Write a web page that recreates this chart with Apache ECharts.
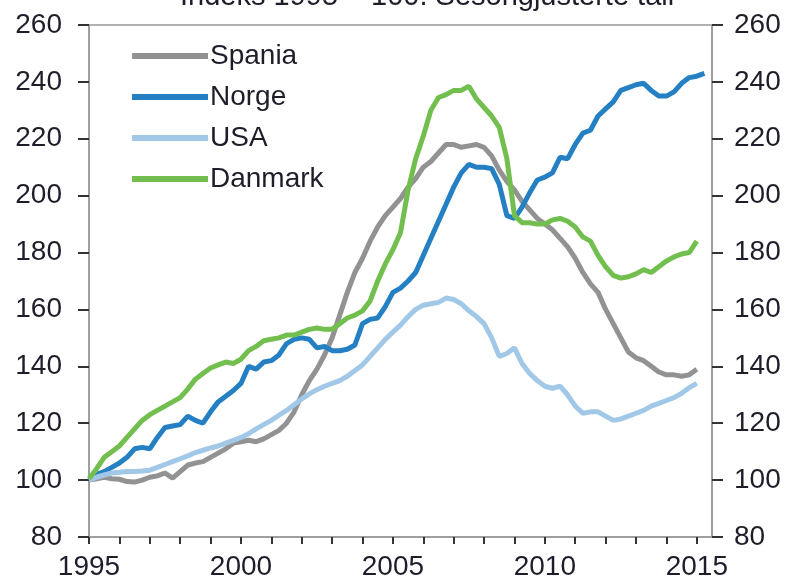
<!DOCTYPE html>
<html>
<head>
<meta charset="utf-8">
<script src="https://cdn.jsdelivr.net/npm/echarts@6/dist/echarts.min.js"></script>
<style>
  html, body { margin: 0; padding: 0; background: #fff; }
  #chart { width: 792px; height: 583px; }
</style>
</head>
<body>
<div id="chart"></div>
<script>
// quarterly points, 1995 Q1 .. 2015 Q2
const quarters = Array.from({ length: 82 }, (_, i) => 1995 + i / 4);

const spania = [
  100, 100.5, 101, 100.5, 100.3, 99.5, 99.3, 100, 101, 101.5, 102.5, 100.7,
  103, 105.3, 106, 106.5, 108, 109.5, 111, 113, 113.5, 114, 113.5, 114.5,
  116, 117.5, 120, 124, 130, 135, 139, 144, 150, 158, 166, 173,
  178, 184, 189, 193, 196, 199, 203, 206, 210, 212, 215, 218,
  218, 217, 217.5, 218, 217, 214, 209, 205, 202, 198, 195, 192,
  190, 188, 185, 182, 178, 173, 169, 166, 160, 155, 150, 145,
  143, 142, 140, 138, 137, 137, 136.5, 137, 139, null
];

const norge = [
  100, 102, 103, 104.5, 106, 108, 111, 111.5, 111, 115, 118.5, 119,
  119.5, 122.5, 121, 120, 124, 127.5, 129.5, 131.5, 134, 140, 139, 141.5,
  142, 144, 148, 149.5, 150, 149.5, 146.5, 147, 145.5, 145.5, 146, 147.5,
  155, 156.5, 157, 161, 166, 167.5, 170, 173, 179, 185, 191, 197,
  203, 208, 211, 210, 210, 209.5, 204, 193, 192, 196, 201, 205.5,
  206.5, 208, 213.5, 213, 218, 222, 223, 228, 230.5, 233, 237, 238,
  239, 239.5, 237, 235, 235, 236.5, 239.5, 241.5, 242, 243
];

const usa = [
  100, 101, 101.8, 102.5, 102.8, 103, 103, 103.2, 103.5, 104.5, 105.5, 106.5,
  107.5, 108.5, 109.7, 110.5, 111.3, 112, 113, 114, 115, 116.3, 118, 119.5,
  121, 122.8, 124.5, 126.5, 128.5, 130.3, 131.8, 133, 134, 135, 136.5, 138.5,
  140.5, 143.5, 146.5, 149.5, 152, 154.5, 157.5, 160, 161.5, 162, 162.5, 164,
  163.5, 162, 159.5, 157.5, 155, 150, 143.5, 144.5, 146.5, 141, 137.5, 135,
  133, 132.3, 133, 130, 126, 123.5, 124, 124, 122.5, 121, 121.5, 122.5,
  123.5, 124.5, 126, 127, 128, 129, 130.5, 132.5, 134, null
];

const danmark = [
  100.5, 104, 108, 110, 112, 115, 118, 121, 123, 124.5, 126, 127.5,
  129, 132, 135.5, 137.5, 139.4, 140.5, 141.5, 141, 142.5, 145.5, 147, 149,
  149.5, 150, 151, 151, 152, 153, 153.5, 153, 153, 155, 157, 158,
  159.5, 163, 170, 176, 181, 187, 202, 213, 221, 230, 234.5, 235.5,
  237, 237, 238.5, 234, 231, 228, 224, 213, 193, 190.5, 190.5, 190,
  190, 191.5, 192, 191, 189, 185.5, 184, 179, 175, 172, 171, 171.5,
  172.5, 174, 173, 175, 177, 178.5, 179.5, 180, 184, null
];

const seriesNames = ['Spania', 'Norge', 'USA', 'Danmark'];
const seriesColors = ['#929292', '#2480c3', '#a2c8e8', '#72bf4f'];
const seriesValues = [spania, norge, usa, danmark];

const yearTicks = Array.from({ length: 21 }, (_, i) => 1995 + i);
const yearLabels = [1995, 2000, 2005, 2010, 2015];

const font = 'Liberation Sans, Arial, sans-serif';
const textColor = '#1e1e2a';

const yAxisBase = {
  type: 'value',
  min: 80,
  max: 260,
  interval: 20,
  splitLine: { show: false },
  axisLine: { show: true, lineStyle: { color: '#999', width: 1.5 } },
  axisTick: { show: true, inside: false, length: 11, lineStyle: { color: '#333', width: 2 } },
  axisLabel: { color: textColor, fontSize: 28, fontFamily: font }
};

const chart = echarts.init(document.getElementById('chart'), null, { renderer: 'canvas' });
chart.setOption({
  backgroundColor: '#fff',
  animation: false,
  title: {
    text: 'Indeks 1995 = 100. Sesongjusterte tall',
    left: 175,
    top: -23,
    textStyle: { color: textColor, fontSize: 29, fontWeight: 'normal', fontFamily: font }
  },
  grid: {
    left: 89, right: 80, top: 25, bottom: 46,
    show: true, borderColor: '#999', borderWidth: 1.5
  },
  legend: {
    orient: 'vertical',
    left: 127,
    top: 37,
    itemWidth: 76,
    itemHeight: 6,
    itemGap: 13,
    icon: 'rect',
    data: seriesNames,
    textStyle: { color: textColor, fontSize: 28, fontFamily: font, padding: [0, 0, 0, -3] }
  },
  xAxis: {
    type: 'value',
    min: 1995,
    max: 2015.5,
    splitLine: { show: false },
    axisLine: { show: true, lineStyle: { color: '#999', width: 1.5 } },
    axisTick: { show: true, length: 7, customValues: yearTicks, lineStyle: { color: '#333', width: 2 } },
    axisLabel: {
      customValues: yearLabels,
      formatter: (v) => String(v),
      color: textColor, fontSize: 28, fontFamily: font, margin: 16
    }
  },
  yAxis: [
    Object.assign({}, yAxisBase, { position: 'left', axisLabel: Object.assign({}, yAxisBase.axisLabel, { margin: 27 }) }),
    Object.assign({}, yAxisBase, { position: 'right', axisLabel: Object.assign({}, yAxisBase.axisLabel, { margin: 22 }) })
  ],
  series: seriesNames.map((name, k) => ({
    name: name,
    type: 'line',
    showSymbol: false,
    symbol: 'none',
    connectNulls: false,
    lineStyle: { width: 5, color: seriesColors[k] },
    itemStyle: { color: seriesColors[k] },
    data: quarters.map((q, i) => [q, seriesValues[k][i]])
  }))
});
</script>
</body>
</html>
